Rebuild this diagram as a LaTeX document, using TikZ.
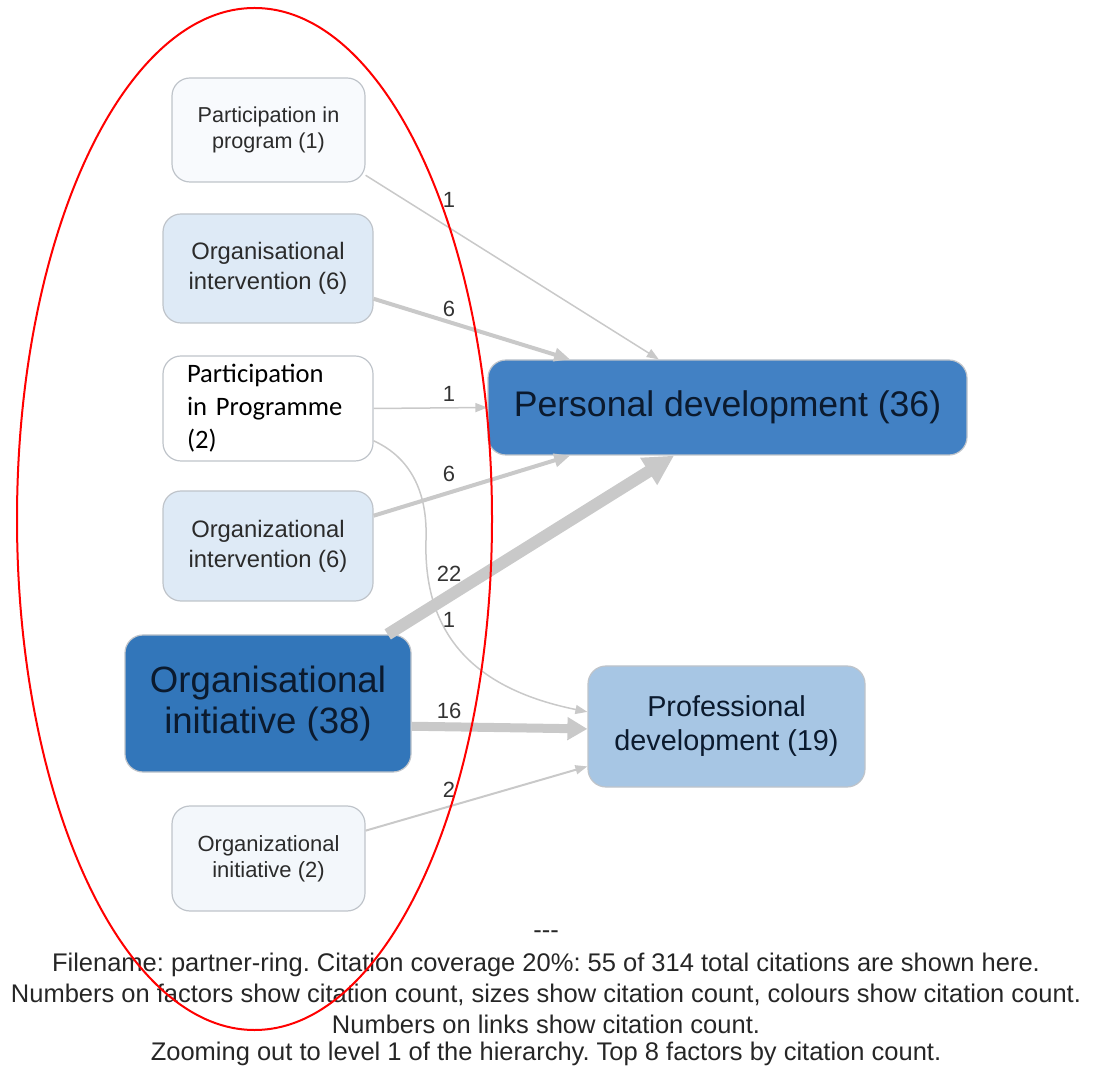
\documentclass[tikz,border=0pt]{standalone}
\usepackage{fontspec}
\setmainfont{Liberation Sans}
\newfontfamily\calib{Carlito}
\usetikzlibrary{arrows.meta,calc}
\definecolor{edgegray}{HTML}{C9C9C9}
\definecolor{boxborder}{HTML}{BFC4CA}
\definecolor{boxtext}{HTML}{2B2B2B}
\definecolor{darktext}{HTML}{0B1A2E}
\definecolor{labeltext}{HTML}{333333}
\definecolor{fillA}{HTML}{F8FAFD}
\definecolor{fillB}{HTML}{DEEAF6}
\definecolor{fillC}{HTML}{F3F7FB}
\definecolor{fillD}{HTML}{3276BA}
\definecolor{fillE}{HTML}{4281C4}
\definecolor{fillF}{HTML}{A7C6E4}
\frenchspacing
\begin{document}
\begin{tikzpicture}[x=0.5pt,y=-0.5pt,
  box/.style={draw=boxborder, line width=0.6pt, rounded corners=9pt, align=center, inner sep=0pt, text=boxtext},
  lnk/.style={draw=edgegray, line width=0.75pt, -{Triangle[length=6pt,width=4.5pt]}},
  lnkmid/.style={draw=edgegray, line width=2pt, -{Triangle[length=8pt,width=6.5pt]}},
  lbl/.style={font=\fontsize{11}{12}\selectfont, text=labeltext, inner sep=0pt},
  foot/.style={font=\fontsize{12.75}{14.5}\selectfont, text=black!85, inner sep=0pt},
]
\useasboundingbox (0,0) rectangle (1097,1068);

% nodes
\node[box, fill=fillA, minimum width=96.5pt, minimum height=52pt,
  font=\fontsize{10.8}{13}\selectfont] (p1) at (268.5,130) {Participation in\\program (1)};
\node[box, fill=fillB, minimum width=105pt, minimum height=54.5pt,
  font=\fontsize{11.9}{15}\selectfont] (oi6) at (268,268.5) {Organisational\\intervention (6)};
\node[box, fill=white, minimum height=52.5pt, text width=81pt, inner xsep=12pt,
  align=left, text=black, font=\calib\fontsize{13.3}{16.5}\selectfont] (pp2) at (268,408.5) {Participation\\in Programme\\(2)};
\node[box, fill=fillB, minimum width=105pt, minimum height=55pt,
  font=\fontsize{11.9}{15}\selectfont] (oz6) at (268,546) {Organizational\\intervention (6)};
\node[box, fill=fillD, minimum width=143pt, minimum height=68.5pt, text=darktext,
  font=\fontsize{18.3}{20.5}\selectfont] (oi38) at (268,703.5) {Organisational\\initiative (38)};
\node[box, fill=fillC, minimum width=96.5pt, minimum height=52.5pt,
  font=\fontsize{11}{13}\selectfont] (oin2) at (268.5,858.5) {Organizational\\initiative (2)};
\node[box, fill=fillE, minimum width=239.5pt, minimum height=47.5pt, text=darktext,
  font=\fontsize{17.8}{20}\selectfont] (pd) at (727.5,407.5) {\raisebox{-2pt}{Personal development (36)}};
\node[box, fill=fillF, minimum width=138.5pt, minimum height=60.5pt, text=darktext,
  font=\fontsize{14.4}{17}\selectfont] (prof) at (726.5,726.5) {Professional\\development (19)};

% links
\draw[lnk] (p1.-25) -- (pd.145);
\draw[lnkmid] (oi6.-16) -- (pd.163);
\draw[lnk] (pp2.east) -- (pd.west);
\draw[lnk] (pp2.-17) .. controls (405,455) and (428,485) .. (426,540)
   .. controls (423,640) and (480,690) .. (prof.174);
\draw[lnkmid] (oz6.16) -- (pd.197);
\draw[draw=edgegray, line width=6pt, -{Triangle[length=15pt,width=15pt]}] (oi38.30.4) -- (pd.222);
\draw[draw=edgegray, line width=4.5pt, -{Triangle[length=10pt,width=11pt]}] (oi38.-9.7) -- (prof.181);
\draw[draw=edgegray, line width=1pt, -{Triangle[length=6pt,width=4.5pt]}] (oin2.16.5) -- (prof.196.7);

% link labels
\node[lbl] (l1) at (449,200) {1};
\node[lbl] (l2) at (449,309) {6};
\node[lbl] (l3) at (449,394) {1};
\node[lbl] (l4) at (449,474) {6};
\node[lbl] (l5) at (449,574) {22};
\node[lbl] (l6) at (449,620) {1};
\node[lbl] (l7) at (449,711) {16};
\node[lbl] (l8) at (449,790) {2};

% footer
\node[foot] (f0) at (546,935) {{-}{-}{-}};
\node[foot] (f1) at (546,965) {Filename: partner-ring. Citation coverage 20\%: 55 of 314 total citations are shown here.};
\node[foot] (f2) at (546,995) {Numbers on factors show citation count, sizes show citation count, colours show citation count.};
\node[foot] (f3) at (546,1024) {Numbers on links show citation count.};
\node[foot] (f4) at (546,1054) {Zooming out to level 1 of the hierarchy. Top 8 factors by citation count.};

% red ellipse
\draw[red, line width=1pt] (254.5,519) ellipse [x radius=237.5, y radius=511];
\end{tikzpicture}
\end{document}
